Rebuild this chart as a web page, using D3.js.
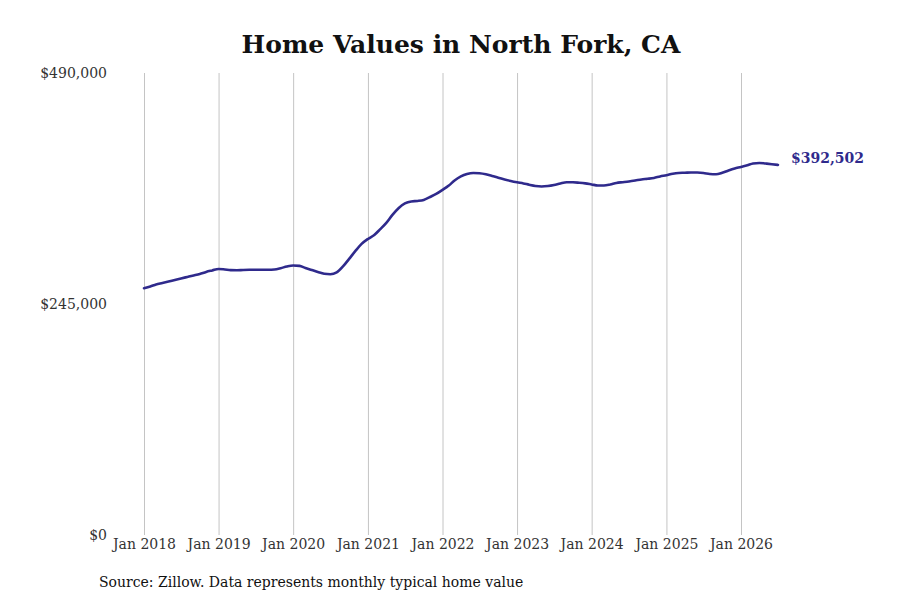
<!DOCTYPE html>
<html><head><meta charset="utf-8">
<script src="https://cdn.jsdelivr.net/npm/d3@7"></script>
<style>body{margin:0;background:#fff;} svg{display:block;}</style>
</head><body>
<svg id="chart" width="900" height="600"></svg>
<script>
const title = "Home Values in North Fork, CA";
const source = "Source: Zillow. Data represents monthly typical home value";
const startYear = 2018, startMonth = 0;
const values = [
 261700,263600,265700,267300,268900,270500,272100,273700,275300,276900,279000,280600,
 282200,281600,280900,280800,281100,281300,281400,281300,281300,281600,283000,284800,
 285900,285400,283200,281100,279000,277100,276600,278500,284800,292800,301300,308700,
 314000,318200,324100,331000,339500,346900,351700,353800,354300,355400,358500,361700,
 366000,370700,376000,380300,382900,384000,383700,382600,380800,378900,377100,375500,
 374100,372900,371500,370200,369700,370200,371300,372900,374100,374100,373600,372900,
 371800,370700,370700,371800,373400,374200,375000,376000,377100,377800,378700,380300,
 381600,383200,384000,384200,384500,384500,384000,382900,382600,384200,386700,388800,
 390400,392200,394100,394600,394000,393300,392502
];
const yTicks = [0, 245000, 490000];
const xTickYears = [2018,2019,2020,2021,2022,2023,2024,2025,2026];
const lineColor = "#2f2a8c";

const dates = values.map((v,i)=> new Date(startYear, startMonth + i, 1));
const data = values.map((v,i)=>({date:dates[i], value:v}));

const svg = d3.select("#chart");
const font = "DejaVu Serif, serif";

const x = d3.scaleTime().domain([new Date(2018,0,1), new Date(2026,0,1)]).range([144, 741]);
const y = d3.scaleLinear().domain([0, 490000]).range([535, 73]);

svg.append("text").attr("x", 461).attr("y", 53).attr("text-anchor","middle")
  .attr("font-family", font).attr("font-weight","bold").attr("font-size", 25)
  .attr("fill","#111").text(title);

// vertical gridlines
const xAxis = d3.axisBottom(x).tickValues(xTickYears.map(yr=>new Date(yr,0,1)))
  .tickFormat(d3.timeFormat("Jan %Y")).tickSize(-(535-73)).tickPadding(4);
const gx = svg.append("g").attr("transform","translate(0,535)").call(xAxis);
gx.select(".domain").remove();
gx.selectAll("line").attr("stroke","#c4c4c4").attr("stroke-width",1);
gx.selectAll("text").attr("font-family", font).attr("font-size", 14).attr("fill","#333");

const yAxis = d3.axisLeft(y).tickValues(yTicks).tickFormat(d=>"$"+d3.format(",")(d)).tickSize(0).tickPadding(0);
const gy = svg.append("g").attr("transform","translate(107,0)").call(yAxis);
gy.select(".domain").remove();
gy.selectAll("text").attr("font-family", font).attr("font-size", 14).attr("fill","#333");

const line = d3.line().x(d=>x(d.date)).y(d=>y(d.value)).curve(d3.curveMonotoneX);
svg.append("path").datum(data).attr("d", line).attr("fill","none")
  .attr("stroke", lineColor).attr("stroke-width", 2.6).attr("stroke-linejoin","round").attr("stroke-linecap","round");

const last = data[data.length-1];
svg.append("text").attr("x", x(last.date)+13).attr("y", y(last.value)-2)
  .attr("font-family", font).attr("font-weight","bold").attr("font-size", 14)
  .attr("fill", lineColor).text("$"+d3.format(",")(last.value));

svg.append("text").attr("x", 99).attr("y", 587)
  .attr("font-family", font).attr("font-size", 14).attr("fill","#111").text(source);
</script>
</body></html>
